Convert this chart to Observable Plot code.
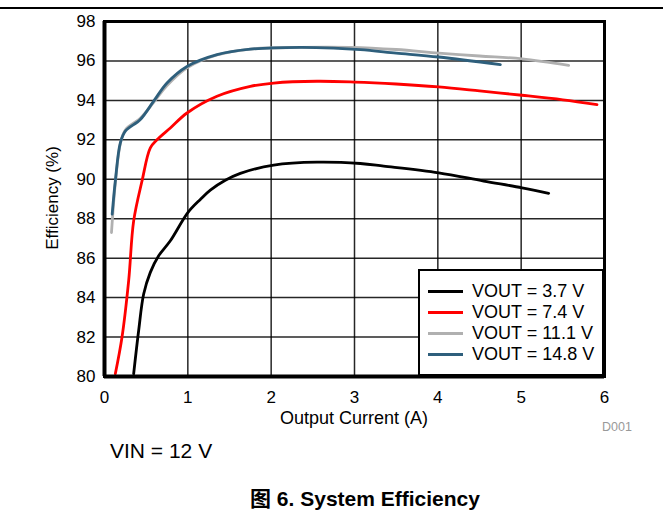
<!DOCTYPE html>
<html>
<head>
<meta charset="utf-8">
<script src="https://cdn.jsdelivr.net/npm/d3@7"></script>
<script src="https://cdn.jsdelivr.net/npm/@observablehq/plot@0.6"></script>
<style>
  html, body { margin: 0; padding: 0; background: #fff; }
  #wrap { position: relative; width: 663px; height: 514px; overflow: hidden; font-family: "Liberation Sans", Arial, sans-serif; color: #000; }
  #wrap svg { position: absolute; left: 0; top: 0; }
  .abs { position: absolute; white-space: nowrap; }
</style>
</head>
<body>
<div id="wrap"></div>
<script>
// ---- Data ----
const seriesNames = ["VOUT = 3.7 V", "VOUT = 7.4 V", "VOUT = 11.1 V", "VOUT = 14.8 V"];
const seriesColors = ["#000000", "#ff0000", "#b0b0b0", "#2e5f7c"];

const current37 = [0.35, 0.41, 0.47, 0.55, 0.65, 0.79, 1.0, 1.15, 1.27, 1.45, 1.63, 2.03, 2.55, 3.07, 3.35, 4.01, 4.55, 5.01, 5.33];
const eff37     = [80.14, 82.33, 84.18, 85.28, 86.12, 86.88, 88.31, 88.98, 89.45, 89.95, 90.3, 90.72, 90.87, 90.8, 90.67, 90.33, 89.91, 89.57, 89.29];

const current74 = [0.13, 0.21, 0.29, 0.35, 0.45, 0.55, 0.63, 0.79, 0.99, 1.35, 1.75, 2.03, 2.55, 3.0, 3.5, 4.01, 4.5, 5.01, 5.5, 5.91];
const eff74     = [80.14, 81.99, 84.86, 87.89, 89.91, 91.59, 92.0, 92.6, 93.36, 94.21, 94.71, 94.88, 94.97, 94.93, 94.83, 94.68, 94.48, 94.26, 94.03, 93.79];

const current111 = [0.084, 0.13, 0.19, 0.25, 0.43, 0.59, 0.75, 0.99, 1.35, 1.75, 2.35, 2.95, 3.5, 4.01, 4.5, 5.01, 5.57];
const eff111     = [87.3, 89.8, 91.8, 92.5, 93.1, 93.9, 94.75, 95.65, 96.3, 96.6, 96.69, 96.69, 96.58, 96.4, 96.25, 96.11, 95.78];

const current148 = [0.092, 0.132, 0.19, 0.25, 0.43, 0.59, 0.75, 0.99, 1.35, 1.75, 2.35, 2.75, 3.07, 3.5, 4.01, 4.75];
const eff148     = [88.23, 90.0, 91.85, 92.44, 93.03, 93.96, 94.88, 95.72, 96.32, 96.6, 96.69, 96.65, 96.57, 96.4, 96.2, 95.81];

const xTicks = [0, 1, 2, 3, 4, 5, 6];
const yTicks = [80, 82, 84, 86, 88, 90, 92, 94, 96, 98];

const xLabel = "Output Current (A)";
const yLabel = "Efficiency (%)";
const noteText = "VIN = 12 V";
const codeText = "D001";
const titleText = "图 6. System Efficiency";

// ---- Build table ----
const allCurrents = [current37, current74, current111, current148];
const allEffs = [eff37, eff74, eff111, eff148];
const rows = [];
allCurrents.forEach((xs, i) => xs.forEach((x, j) => rows.push({series: seriesNames[i], current: x, eff: allEffs[i][j]})));

const chart = Plot.plot({
  width: 663,
  height: 514,
  marginTop: 21,
  marginBottom: 138,
  marginLeft: 104,
  marginRight: 59,
  style: {fontFamily: "'Liberation Sans', Arial, sans-serif", fontSize: "17px", color: "#000", background: "transparent", overflow: "visible"},
  x: {domain: [0, 6], ticks: xTicks, tickFormat: d => String(d), tickSize: 0, tickPadding: 14, label: null},
  y: {domain: [80, 98], ticks: yTicks, tickFormat: d => String(d), tickSize: 0, tickPadding: 9, label: null},
  color: {domain: seriesNames, range: seriesColors},
  marks: [
    Plot.gridX(xTicks, {stroke: "#000", strokeOpacity: 0.85, strokeWidth: 1.5}),
    Plot.gridY(yTicks, {stroke: "#000", strokeOpacity: 0.85, strokeWidth: 1.5}),
    Plot.line(rows, {x: "current", y: "eff", z: "series", stroke: "series", strokeWidth: 2.8, curve: "catmull-rom", clip: true}),
    Plot.frame({stroke: "#000", strokeWidth: 3}),
    Plot.ruleX([0], {stroke: "#000", strokeWidth: 4}),
    Plot.ruleY([80], {stroke: "#000", strokeWidth: 4})
  ]
});

const wrap = document.getElementById("wrap");
wrap.appendChild(chart);

function addDiv(style, text) {
  const d = document.createElement("div");
  d.className = "abs";
  Object.assign(d.style, style);
  if (text != null) d.textContent = text;
  wrap.appendChild(d);
  return d;
}

// top rule
addDiv({left: "0px", top: "7px", width: "663px", height: "2px", background: "#000"});

// axis titles
addDiv({left: "354px", top: "418px", transform: "translate(-50%,-50%)", fontSize: "18px"}, xLabel);
addDiv({left: "53px", top: "198px", transform: "translate(-50%,-50%) rotate(-90deg)", fontSize: "17px"}, yLabel);

// D001, VIN, title
addDiv({left: "602px", top: "427px", transform: "translateY(-50%)", fontSize: "12.5px", color: "#999"}, codeText);
addDiv({left: "110px", top: "451px", transform: "translateY(-50%)", fontSize: "21px"}, noteText);
addDiv({left: "365px", top: "497px", transform: "translate(-50%,-50%)", fontSize: "21px", fontWeight: "bold", fontFamily: "'Liberation Sans', Arial, 'Noto Sans CJK SC', sans-serif"}, titleText);

// legend
addDiv({left: "418px", top: "269px", width: "186px", height: "107px", boxSizing: "border-box", border: "2px solid #000", background: "#fff"});
const rowY = [291, 312, 333, 354];
seriesNames.forEach((name, i) => {
  addDiv({left: "428px", top: (rowY[i] - 1.5) + "px", width: "35px", height: "3px", background: seriesColors[i]});
  addDiv({left: "472px", top: rowY[i] + "px", transform: "translateY(-50%)", fontSize: "18px"}, name);
});
</script>
</body>
</html>
